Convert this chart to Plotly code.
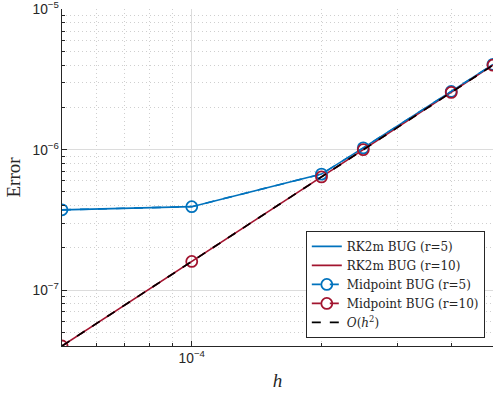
import plotly.graph_objects as go

# step sizes and measured errors
h = [5e-5, 1e-4, 2e-4, 2.5e-4, 4e-4, 5e-4]
err_rk2m_r5 = [3.73e-7, 3.93e-7, 6.7e-7, 1.03e-6, 2.6e-6, 4.05e-6]
err_rk2m_r10 = [4.0e-8, 1.6e-7, 6.4e-7, 1.0e-6, 2.56e-6, 4.0e-6]
err_mid_r5 = [3.73e-7, 3.93e-7, 6.7e-7, 1.03e-6, 2.6e-6, 4.05e-6]
err_mid_r10 = [4.0e-8, 1.6e-7, 6.4e-7, 1.0e-6, 2.56e-6, 4.0e-6]
ref_order2 = [4.0e-8, 1.6e-7, 6.4e-7, 1.0e-6, 2.56e-6, 4.0e-6]

BLUE = "#0072BD"
RED = "#A2142F"
SERIF = "DejaVu Serif, Liberation Serif, serif"
SANS = "Liberation Sans, Arial, sans-serif"

fig = go.Figure()
fig.add_trace(go.Scatter(x=h, y=err_rk2m_r5, mode="lines", name="RK2m BUG (r=5)",
                         line=dict(color=BLUE, width=1.6)))
fig.add_trace(go.Scatter(x=h, y=err_rk2m_r10, mode="lines", name="RK2m BUG (r=10)",
                         line=dict(color=RED, width=1.6)))
fig.add_trace(go.Scatter(x=h, y=err_mid_r5, mode="lines+markers", name="Midpoint BUG (r=5)",
                         line=dict(color=BLUE, width=1.6, dash="dash"),
                         marker=dict(symbol="circle-open", size=11, color=BLUE,
                                     line=dict(width=1.8, color=BLUE))))
fig.add_trace(go.Scatter(x=h, y=err_mid_r10, mode="lines+markers", name="Midpoint BUG (r=10)",
                         line=dict(color=RED, width=1.6, dash="dash"),
                         marker=dict(symbol="circle-open", size=11, color=RED,
                                     line=dict(width=1.8, color=RED))))
fig.add_trace(go.Scatter(x=h, y=ref_order2, mode="lines",
                         name="<i>O</i>(<i>h</i><sup>2</sup>)",
                         line=dict(color="black", width=1.6, dash="dash")))

axis_common = dict(
    type="log", showline=True, linecolor="#262626", linewidth=1,
    ticks="inside", ticklen=5, tickcolor="#262626",
    showgrid=True, gridcolor="#DCDCDC", gridwidth=1,
    exponentformat="power", dtick=1, ticklabeloverflow="allow",
    tickfont=dict(family=SANS, size=11, color="#262626"),
    minor=dict(ticks="inside", ticklen=3, tickcolor="#262626", dtick="D1",
               showgrid=True, gridcolor="#CFCFCF", griddash="1px,3px", gridwidth=1),
    zeroline=False, mirror=False,
)

fig.update_xaxes(**axis_common, range=[-4.30103, -3.30103],
                 title=dict(text="<i>h</i>", font=dict(family="Liberation Serif, serif", size=19,
                                                        color="#262626"),
                            standoff=8))
fig.update_yaxes(**axis_common, range=[-7.39794, -4.998],
                 title=dict(text="Error", font=dict(family="Liberation Serif, serif", size=19,
                                                     color="#262626"),
                            standoff=6))

fig.update_layout(
    width=493, height=398,
    margin=dict(l=62, r=0, t=9, b=52),
    plot_bgcolor="white", paper_bgcolor="white",
    legend=dict(x=0.981, y=0.024, xanchor="right", yanchor="bottom",
                bgcolor="white", bordercolor="#262626", borderwidth=1,
                font=dict(family=SERIF, size=12, color="#262626"),
                tracegroupgap=0, itemwidth=30),
)

fig.write_html("out.html")
